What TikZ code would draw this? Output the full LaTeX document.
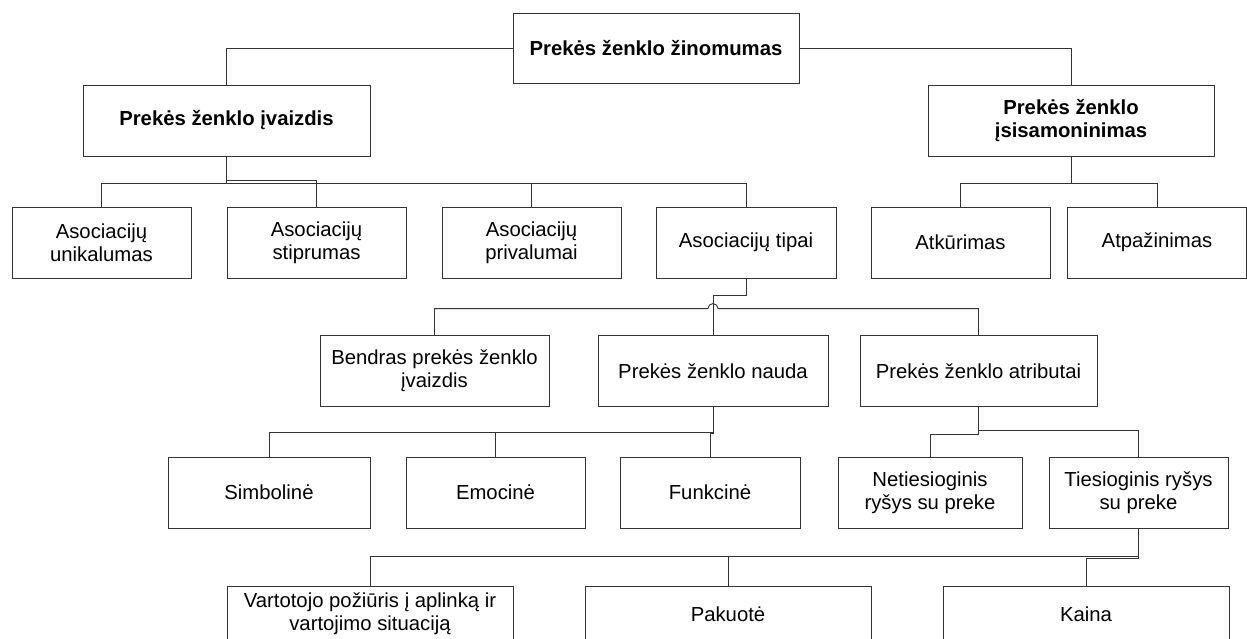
\documentclass[tikz,border=0pt]{standalone}
\usepackage{fontspec}
\setmainfont{Liberation Sans}
\usetikzlibrary{calc}
\begin{document}
\begin{tikzpicture}[x=1pt,y=-1pt,
  box/.style={draw=black!80, line width=0.9pt, fill=white, minimum height=71pt,
    inner sep=2pt, align=center, font=\fontsize{20.3}{23}\selectfont},
  bold/.style={font=\fontsize{20.3}{23}\selectfont\bfseries},
  conn/.style={draw=black!80, line width=0.9pt}]
\useasboundingbox (0,0) rectangle (1247,639);
\clip (0,0) rectangle (1247,639);

% level 0 and 1
\node[box,bold,minimum width=286pt,minimum height=70pt] (top) at (656,48) {Prekės ženklo žinomumas};
\node[box,bold,minimum width=287pt] (img)  at (226.5,120.5) {Prekės ženklo įvaizdis};
\node[box,bold,minimum width=286pt] (isis) at (1071,120.5) {Prekės ženklo\\įsisamoninimas};

% level 2
\node[box,minimum width=179pt] (unik)  at (101.5,242.5) {Asociacijų\\unikalumas};
\node[box,minimum width=179pt] (stipr) at (316.5,242.5) {Asociacijų\\stiprumas};
\node[box,minimum width=179pt] (priv)  at (531.5,242.5) {Asociacijų\\privalumai};
\node[box,minimum width=180pt] (tipai) at (746,242.5)   {Asociacijų tipai};
\node[box,minimum width=179pt] (atk)   at (960.5,242.5) {Atkūrimas};
\node[box,minimum width=179pt] (atp)   at (1157,242.5)  {Atpažinimas};

% level 3
\node[box,minimum width=229pt] (bendras) at (434.5,371) {Bendras prekės ženklo\\įvaizdis};
\node[box,minimum width=230pt] (nauda)   at (713,371)   {Prekės ženklo nauda};
\node[box,minimum width=237pt] (atrib)   at (978.5,371) {Prekės ženklo atributai};

% level 4
\node[box,minimum width=202pt] (simb)  at (269,492.5)    {Simbolinė};
\node[box,minimum width=179pt] (emoc)  at (495.5,492.5)  {Emocinė};
\node[box,minimum width=180pt] (funk)  at (710,492.5)    {Funkcinė};
\node[box,minimum width=184pt] (netie) at (930,492.5)    {Netiesioginis\\ryšys su preke};
\node[box,minimum width=179pt] (tie)   at (1138.5,492.5) {Tiesioginis ryšys\\su preke};

% level 5
\node[box,minimum width=286pt,minimum height=56pt] (vart)  at (370,614)  {Vartotojo požiūris į aplinką ir\\vartojimo situaciją};
\node[box,minimum width=286pt,minimum height=56pt] (pak)   at (728,614)  {Pakuotė};
\node[box,minimum width=286pt,minimum height=56pt] (kaina) at (1086,614) {Kaina};

% connectors
\draw[conn] (top.west) -| (img.north);
\draw[conn] (top.east) -| (isis.north);

\draw[conn] (img.south) -- ++(0,27) -| (unik.north);
\draw[conn] (img.south) -- ++(0,24) -| (stipr.north);
\draw[conn] (img.south) -- ++(0,27) -| (priv.north);
\draw[conn] (img.south) -- ++(0,27) -| (tipai.north);

\draw[conn] (isis.south) -- ++(0,27) -| (atk.north);
\draw[conn] (isis.south) -- ++(0,27) -| (atp.north);

\draw[conn] (tipai.south) -- ++(0,17) -| (nauda.north);
\draw[conn] (bendras.north) -- ++(0,-26.5) -- ($(nauda.north)+(-5,-26.5)$)
  arc[start angle=180,end angle=0,radius=5pt] -- ($(atrib.north)+(0,-26.5)$) -- (atrib.north);

\draw[conn] (nauda.south) -- ++(0,25) -| (simb.north);
\draw[conn] (nauda.south) -- ++(0,25) -| (emoc.north);
\draw[conn] (nauda.south) -- ++(0,26) -| (funk.north);

\draw[conn] (atrib.south) -- ++(0,23) -| (tie.north);
\draw[conn] (atrib.south) -- ++(0,27) -| (netie.north);

\draw[conn] (tie.south) -- ++(0,28) -| (vart.north);
\draw[conn] (tie.south) -- ++(0,28) -| (pak.north);
\draw[conn] (tie.south) -- ++(0,30) -| (kaina.north);
\end{tikzpicture}
\end{document}
